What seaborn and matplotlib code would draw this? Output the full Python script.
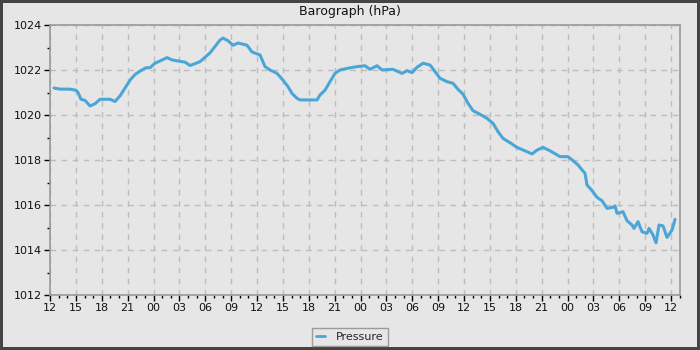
import matplotlib
matplotlib.use("Agg")
import matplotlib.pyplot as plt
import seaborn as sns
import pandas as pd
import numpy as np
from matplotlib.ticker import MultipleLocator, FuncFormatter

# hours since start (start = 12:00)
hours = [0.46, 1.16, 2.32, 3.01, 3.25, 3.59, 4.06, 4.64, 5.22, 5.80, 6.96, 7.54, 8.12, 8.70,
         9.28, 9.86, 10.43, 11.13, 11.59, 12.17, 12.75, 13.57, 14.14, 14.84, 15.65, 16.23,
         16.93, 17.39, 18.55, 19.71, 20.06, 20.64, 21.22, 21.80, 22.84, 23.42, 24.35, 24.93,
         25.51, 26.32, 27.01, 27.59, 28.06, 28.64, 28.99, 30.96, 31.30, 31.88, 32.46, 33.04,
         33.62, 34.43, 35.59, 36.52, 37.10, 37.91, 38.49, 39.77, 40.81, 41.39, 41.97, 42.55,
         43.25, 44.06, 44.64, 45.22, 46.03, 46.72, 47.30, 47.88, 48.46, 49.04, 49.86, 50.67,
         51.36, 51.94, 52.52, 53.33, 54.14, 55.30, 55.88, 56.46, 57.16, 57.97, 59.13, 60.06,
         60.64, 61.22, 61.68, 62.03, 62.26, 62.84, 63.42, 64.00, 64.58, 65.28, 65.51, 65.74,
         66.43, 66.90, 67.48, 67.71, 68.17, 68.64, 69.22, 69.45, 69.91, 70.26, 70.61, 71.07,
         71.54, 72.12, 72.46]
pressure = [1021.2, 1021.15, 1021.15, 1021.1, 1021.0, 1020.7, 1020.65, 1020.4, 1020.5, 1020.7,
            1020.7, 1020.6, 1020.85, 1021.2, 1021.55, 1021.8, 1021.95, 1022.1, 1022.1, 1022.3,
            1022.4, 1022.55, 1022.45, 1022.4, 1022.35, 1022.2, 1022.3, 1022.37, 1022.76, 1023.33,
            1023.42, 1023.3, 1023.1, 1023.2, 1023.1, 1022.8, 1022.67, 1022.15, 1022.0, 1021.85,
            1021.55, 1021.26, 1020.96, 1020.74, 1020.67, 1020.67, 1020.89, 1021.1, 1021.48, 1021.85,
            1022.0, 1022.07, 1022.15, 1022.19, 1022.03, 1022.19, 1022.0, 1022.03, 1021.85, 1021.97,
            1021.88, 1022.12, 1022.3, 1022.22, 1021.93, 1021.63, 1021.48, 1021.41, 1021.14, 1020.93,
            1020.52, 1020.19, 1020.03, 1019.85, 1019.63, 1019.26, 1018.96, 1018.77, 1018.56, 1018.37,
            1018.27, 1018.44, 1018.56, 1018.41, 1018.15, 1018.15, 1017.97, 1017.78, 1017.56, 1017.41,
            1016.89, 1016.64, 1016.34, 1016.19, 1015.85, 1015.9, 1015.96, 1015.63, 1015.7, 1015.3,
            1015.11, 1014.96, 1015.26, 1014.81, 1014.74, 1014.96, 1014.67, 1014.32, 1015.11, 1015.07,
            1014.56, 1014.89, 1015.36]
start_hour = 12
title = "Barograph (hPa)"
series_name = "Pressure"

df = pd.DataFrame({"h": hours, "p": pressure, "s": series_name})

sns.set_theme(style="white")
plt.rcParams['font.family'] = ['DejaVu Sans']
plt.rcParams.update({
    "xtick.bottom": True, "ytick.left": True,
    "xtick.minor.visible": True, "ytick.minor.visible": True,
    "xtick.major.size": 4, "ytick.major.size": 4,
    "xtick.minor.size": 2.5, "ytick.minor.size": 2.5,
    "xtick.major.width": 1, "ytick.major.width": 1,
    "xtick.minor.width": 1, "ytick.minor.width": 1,
    "xtick.color": "black", "ytick.color": "black",
})

BG = "#e6e6e6"
fig = plt.figure(figsize=(7, 3.5), dpi=100, facecolor=BG)
fig.patch.set_edgecolor("#444444")
fig.patch.set_linewidth(3)
ax = fig.add_axes([50/700, 1-295/350, 630/700, 270/350])
ax.set_facecolor(BG)

sns.lineplot(data=df, x="h", y="p", hue="s", palette=["#4ba6d8"], linewidth=2.2, ax=ax,
             legend=True)

ax.set_xlim(0, 73.04)
ax.set_ylim(1012, 1024)
ax.xaxis.set_major_locator(MultipleLocator(3))
ax.xaxis.set_minor_locator(MultipleLocator(1))
ax.yaxis.set_major_locator(MultipleLocator(2))
ax.yaxis.set_minor_locator(MultipleLocator(1))
ax.xaxis.set_major_formatter(FuncFormatter(lambda v, p: f"{int(round(v + start_hour)) % 24:02d}"))
ax.yaxis.set_major_formatter(FuncFormatter(lambda v, p: f"{int(round(v))}"))
ax.set_xlabel("")
ax.set_ylabel("")
ax.grid(True, which="major", color="#bdbdbd", linestyle=(0, (4, 4)), linewidth=1)
ax.grid(False, which="minor")
for s in ax.spines.values():
    s.set_color("#999999")
    s.set_linewidth(1.2)
ax.tick_params(which="major", direction="out", length=4, width=1, color="black",
               labelsize=8, pad=2, left=True, bottom=True, labelcolor="#111111")
ax.tick_params(which="minor", direction="out", length=2.5, width=1, color="black",
               left=True, bottom=True)

fig.text(0.5, 1-11/350, title, ha="center", va="center", fontsize=9, color="#111111")

handles, labels = ax.get_legend_handles_labels()
ax.get_legend().remove()
leg = fig.legend(handles, labels, loc="center", bbox_to_anchor=(0.5, 1-337/350),
                 fontsize=8, frameon=True, fancybox=False, handlelength=0.8,
                 borderpad=0.35, handletextpad=1.0, borderaxespad=0)
leg.get_frame().set_facecolor(BG)
leg.get_frame().set_edgecolor("#888888")
leg.get_frame().set_linewidth(1)
for l in leg.get_lines():
    l.set_linewidth(2)

fig.savefig("out.png", dpi=100, facecolor=BG, edgecolor="#444444")
